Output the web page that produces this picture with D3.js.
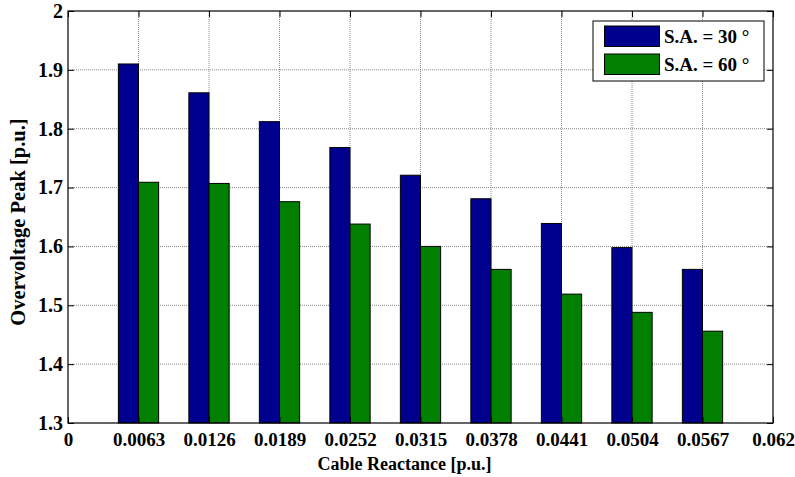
<!DOCTYPE html>
<html>
<head>
<meta charset="utf-8">
<script src="https://cdn.jsdelivr.net/npm/d3@7"></script>
<style>
  html, body { margin: 0; padding: 0; background: #fff; }
  svg { display: block; }
</style>
</head>
<body>
<svg id="chart" width="795" height="477"></svg>
<script>
// Cable reactance values (p.u.) and overvoltage peaks for two switching angles
const reactance = [0.0063, 0.0126, 0.0189, 0.0252, 0.0315, 0.0378, 0.0441, 0.0504, 0.0567];
const peakSA30 = [1.910, 1.861, 1.812, 1.768, 1.721, 1.681, 1.639, 1.598, 1.561];
const peakSA60 = [1.709, 1.707, 1.676, 1.638, 1.600, 1.561, 1.519, 1.488, 1.456];
const seriesNames = ["S.A. = 30 \u00B0", "S.A. = 60 \u00B0"];
const seriesColors = ["#00008F", "#007F00"];

const xTickValues = [0, 0.0063, 0.0126, 0.0189, 0.0252, 0.0315, 0.0378, 0.0441, 0.0504, 0.0567, 0.063];
const xTickLabels = ["0", "0.0063", "0.0126", "0.0189", "0.0252", "0.0315", "0.0378", "0.0441", "0.0504", "0.0567", "0.062"];
const yTickValues = [1.3, 1.4, 1.5, 1.6, 1.7, 1.8, 1.9, 2.0];
const yTickLabels = ["1.3", "1.4", "1.5", "1.6", "1.7", "1.8", "1.9", "2"];

const FONT = "'Liberation Serif', 'Times New Roman', Times, serif";

const svg = d3.select("#chart");
const margin = { left: 68, top: 11, right: 22, bottom: 54 };
const W = 795, H = 477;
const pw = W - margin.left - margin.right;
const ph = H - margin.top - margin.bottom;

const x = d3.scaleLinear().domain([0, 0.063]).range([0, pw]);
const y = d3.scaleLinear().domain([1.3, 2.0]).range([ph, 0]);

const g = svg.append("g").attr("transform", `translate(${margin.left},${margin.top})`);

// Dotted grid lines
g.append("g").selectAll("line").data(xTickValues.slice(1, -1)).join("line")
  .attr("x1", d => x(d)).attr("x2", d => x(d))
  .attr("y1", 0).attr("y2", ph)
  .attr("stroke", "#8a8a8a").attr("stroke-width", 1).attr("stroke-dasharray", "1,1");
g.append("g").selectAll("line").data(yTickValues.slice(1, -1)).join("line")
  .attr("x1", 0).attr("x2", pw)
  .attr("y1", d => y(d)).attr("y2", d => y(d))
  .attr("stroke", "#8a8a8a").attr("stroke-width", 1).attr("stroke-dasharray", "1,1");

// Grouped bars: each bar is 2/7 of the category spacing
const spacing = x(0.0063) - x(0);
const barW = spacing * 2 / 7;
const rows = reactance.map((r, i) => ({ r, vals: [peakSA30[i], peakSA60[i]] }));

const groups = g.append("g").selectAll("g").data(rows).join("g");
groups.selectAll("rect").data(d => d.vals.map((v, k) => ({ r: d.r, v, k }))).join("rect")
  .attr("x", d => x(d.r) - barW + d.k * barW)
  .attr("y", d => y(d.v))
  .attr("width", barW)
  .attr("height", d => y(1.3) - y(d.v))
  .attr("fill", d => seriesColors[d.k])
  .attr("stroke", "#000").attr("stroke-width", 1);

// Axes with inward ticks on all four sides
const tickLen = 6;
const xAxisB = d3.axisBottom(x).tickValues(xTickValues).tickSize(-tickLen).tickPadding(10)
  .tickFormat((d, i) => xTickLabels[i]);
const xAxisT = d3.axisTop(x).tickValues(xTickValues).tickSize(-tickLen).tickFormat("");
const yAxisL = d3.axisLeft(y).tickValues(yTickValues).tickSize(-tickLen).tickPadding(5)
  .tickFormat((d, i) => yTickLabels[i]);
const yAxisR = d3.axisRight(y).tickValues(yTickValues).tickSize(-tickLen).tickFormat("");

function styleAxis(size) {
  return sel => {
    sel.attr("font-family", FONT).attr("font-size", size).attr("font-weight", "bold");
    sel.select(".domain").remove();
    sel.selectAll(".tick line").attr("stroke", "#000").attr("stroke-width", 1);
    sel.selectAll("text").attr("fill", "#000");
  };
}
g.append("g").attr("transform", `translate(0,${ph})`).call(xAxisB).call(styleAxis("19px"));
g.append("g").call(xAxisT).call(styleAxis("19px"));
g.append("g").call(yAxisL).call(styleAxis("20px"));
g.append("g").attr("transform", `translate(${pw},0)`).call(yAxisR).call(styleAxis("20px"));

// Plot box
g.append("rect").attr("x", 0).attr("y", 0).attr("width", pw).attr("height", ph)
  .attr("fill", "none").attr("stroke", "#000").attr("stroke-width", 1.2);

// Axis titles
const titles = svg.append("g").attr("font-family", FONT).attr("font-weight", "bold");
titles.append("text")
  .attr("x", margin.left + pw / 2 - 16).attr("y", 470)
  .attr("text-anchor", "middle").attr("font-size", "18px")
  .text("Cable Reactance [p.u.]");
titles.append("text")
  .attr("transform", "translate(25,222) rotate(-90)")
  .attr("text-anchor", "middle").attr("font-size", "20.5px")
  .text("Overvoltage Peak [p.u.]");

// Legend
const lg = svg.append("g").attr("transform", "translate(593,21)")
  .attr("font-family", FONT).attr("font-size", "19px").attr("font-weight", "bold");
lg.append("rect").attr("width", 171).attr("height", 60)
  .attr("fill", "#fff").attr("stroke", "#000").attr("stroke-width", 1);
seriesNames.forEach((name, i) => {
  lg.append("rect").attr("x", 11.5).attr("y", 5 + i * 28).attr("width", 55).attr("height", 20.5)
    .attr("fill", seriesColors[i]).attr("stroke", "#000").attr("stroke-width", 1);
  lg.append("text").attr("x", 71).attr("y", 22 + i * 28).text(name);
});
</script>
</body>
</html>
